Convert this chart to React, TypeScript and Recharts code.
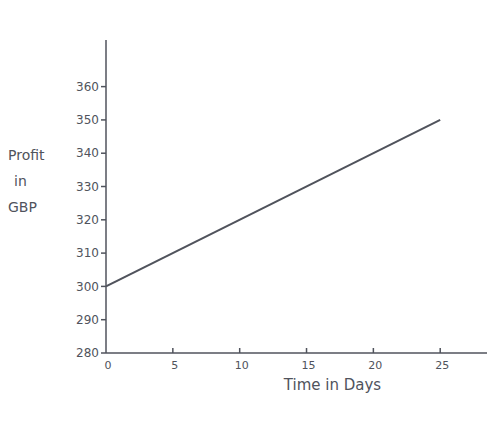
import React from "react";
import { LineChart, Line, XAxis, YAxis, Label } from "recharts";

const days = [0, 25];
const profit = [300, 350];
const xTicks = [0, 5, 10, 15, 20, 25];
const yTicks = [280, 290, 300, 310, 320, 330, 340, 350, 360];
const yLabelLines = ["Profit", "in", "GBP"];

const data = days.map((d, i) => ({ day: d, profit: profit[i] }));

const ink = "#50535c";
const font = "'DejaVu Sans', sans-serif";

function XTick({ x, y, payload }: { x?: number; y?: number; payload?: { value: number } }) {
  if (x == null || y == null || !payload) return null;
  return (
    <g>
      {payload.value !== 0 && <line x1={x} x2={x} y1={y} y2={y - 5} stroke={ink} strokeWidth={1.5} />}
      <text x={x + 2} y={y + 16} textAnchor="middle" fill={ink} fontSize={11} fontFamily={font}>
        {payload.value}
      </text>
    </g>
  );
}

function YTitle({ viewBox }: { viewBox?: { x: number; y: number; width: number; height: number } }) {
  if (!viewBox) return null;
  return (
    <text x={8} y={160} fill={ink} fontSize={14} fontFamily={font}>
      {yLabelLines.map((t, i) => (
        <tspan key={t} x={i === 1 ? 14 : 8} dy={i === 0 ? 0 : 26}>
          {t}
        </tspan>
      ))}
    </text>
  );
}

export default function App() {
  document.body.style.margin = "0";
  return (
    <div style={{ width: 500, height: 426, background: "#fff" }}>
      <LineChart
        width={500}
        height={426}
        data={data}
        margin={{ top: 40, right: 13, left: 0, bottom: 0 }}
      >
        <XAxis
          dataKey="day"
          type="number"
          domain={[0, 28.5]}
          ticks={xTicks}
          allowDataOverflow
          tick={<XTick />}
          tickLine={false}
          tickSize={0}
          tickMargin={0}
          height={73}
          axisLine={{ stroke: ink, strokeWidth: 1.5 }}
        >
          <Label
            value="Time in Days"
            position="insideTop"
            offset={26}
            dx={36}
            fill={ink}
            fontSize={15}
            fontFamily={font}
          />
        </XAxis>
        <YAxis
          type="number"
          domain={[280, 374]}
          ticks={yTicks}
          allowDataOverflow
          width={106}
          tickSize={5}
          tickMargin={2}
          tick={{ fill: ink, fontSize: 12, fontFamily: font }}
          tickLine={{ stroke: ink, strokeWidth: 1.5 }}
          axisLine={{ stroke: ink, strokeWidth: 1.5 }}
        >
          <Label content={<YTitle />} />
        </YAxis>
        <Line
          dataKey="profit"
          type="linear"
          stroke={ink}
          strokeWidth={2}
          dot={false}
          isAnimationActive={false}
        />
      </LineChart>
    </div>
  );
}
